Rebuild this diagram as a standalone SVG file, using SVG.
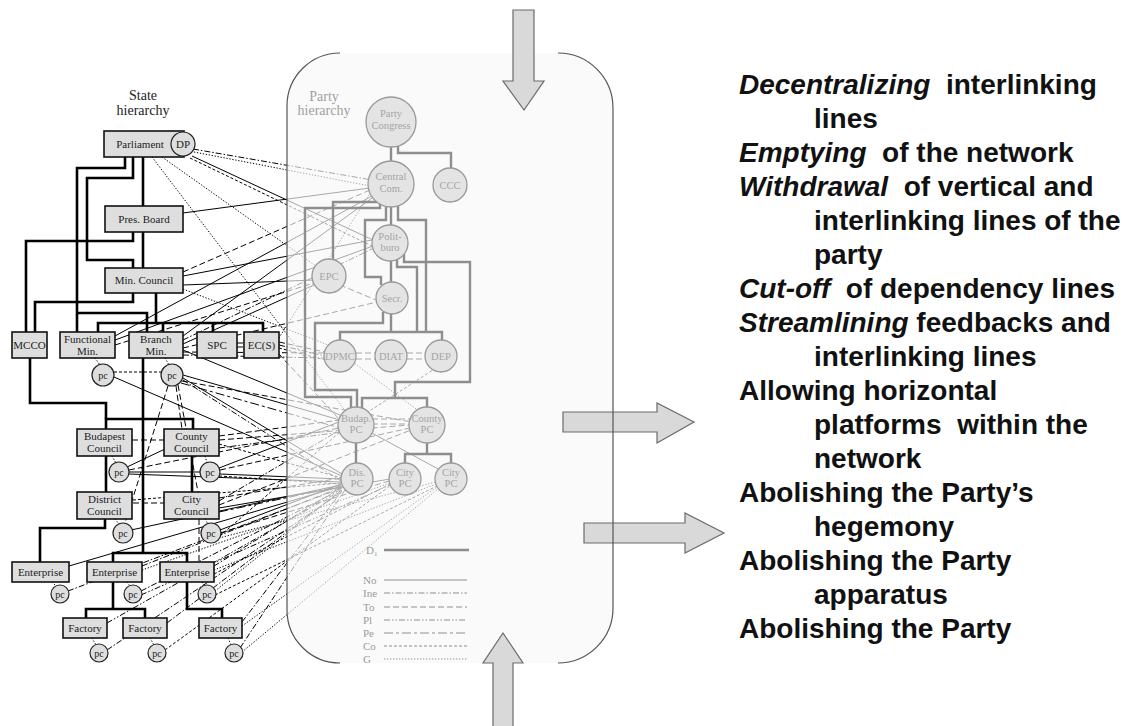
<svg xmlns="http://www.w3.org/2000/svg" width="1127" height="726" viewBox="0 0 1127 726">
<defs>
<style>
.box{fill:#dedede;stroke:#111;stroke-width:1.6}
.st{font-family:"Liberation Serif",serif;font-size:11px;fill:#222;text-anchor:middle}
.pcc{fill:#dedede;stroke:#222;stroke-width:1.2}
.pct{font-family:"Liberation Serif",serif;font-size:10px;fill:#222;text-anchor:middle}
.hl{fill:none;stroke:#000;stroke-width:2.6}
.c{fill:none;stroke:#000;stroke-width:1}
.ine{stroke-dasharray:6 2 1.5 2}
.to{stroke-dasharray:6 3}
.pl{stroke-dasharray:6 2 1.5 2 1.5 2}
.pe{stroke-dasharray:9 3 3 3}
.co{stroke-dasharray:3 2}
.g{stroke-dasharray:1.3 1.7}
.pn{fill:#e4e4e4;stroke:#9a9a9a;stroke-width:1.3}
.pt{font-family:"Liberation Serif",serif;font-size:10.5px;fill:#a5a5a5;text-anchor:middle}
.ph{fill:none;stroke:#8e8e8e;stroke-width:2.4}
.lg{fill:none;stroke:#8e8e8e;stroke-width:1.2}
.lt{font-family:"Liberation Serif",serif;font-size:11px;fill:#9a9a9a}
.arr{fill:#d9d9d9;stroke:#6a6a6a;stroke-width:1.2}
.rt{font-family:"Liberation Sans",Arial,sans-serif;font-size:28px;font-weight:bold;fill:#111;white-space:pre}
.ti{font-family:"Liberation Serif",serif;font-size:14px;text-anchor:middle}
</style>
</defs>
<rect width="1127" height="726" fill="#fff"/>

<!-- interlinking connectors -->
<g id="connectors">
<path class="c ine" d="M193,149 L372,180"/>
<path class="c g" d="M194,152 L370,186"/>
<path class="c" d="M192,156 L373,240"/>
<path class="c co" d="M190,158 L372,246"/>
<path class="c g" d="M152,157 L356,425"/>
<path class="c g" d="M162,157 L330,276"/>
<path class="c" d="M183,213 L370,188"/>
<path class="c to" d="M183,272 L370,190"/>
<path class="c" d="M183,276 L372,240"/>
<path class="c" d="M183,285 L315,280"/>
<path class="c g" d="M183,289 L341,350"/>
<path class="c" d="M115,336 L372,196"/>
<path class="c" d="M115,340 L373,246"/>
<path class="c to" d="M115,345 L314,283"/>
<path class="c" d="M114,377 L342,476"/>
<path class="c co" d="M114,372 L162,372"/>
<path class="c" d="M183,336 L372,198"/>
<path class="c ine" d="M183,340 L374,248"/>
<path class="c" d="M183,344 L314,285"/>
<path class="c to" d="M183,348 L377,302"/>
<path class="c to" d="M183,352 L325,353"/>
<path class="c ine" d="M183,355 L325,358"/>
<path class="c" d="M183,350 L340,415"/>
<path class="c" d="M183,375 L340,420"/>
<path class="c" d="M183,378 L342,474"/>
<path class="c ine" d="M183,380 L341,481"/>
<path class="c to" d="M182,381 L412,422"/>
<path class="c pe" d="M181,383 L340,428"/>
<path class="c to" d="M176,386 L182,429"/>
<path class="c to" d="M178,385 L198,492"/>
<path class="c to" d="M168,386 L125,523"/>
<path class="c to" d="M237,343 L244,343"/>
<path class="c to" d="M237,347 L244,347"/>
<path class="c g" d="M279,338 L372,190"/>
<path class="c to" d="M279,342 L325,352"/>
<path class="c ine" d="M279,345 L325,356"/>
<path class="c co" d="M279,348 L325,360"/>
<path class="c to" d="M279,354 L340,420"/>
<path class="c to" d="M132,440 L164,440"/>
<path class="c to" d="M219,436 L340,420"/>
<path class="c to" d="M219,440 L410,425"/>
<path class="c co" d="M219,444 L342,478"/>
<path class="c ine" d="M219,448 L342,432"/>
<path class="c" d="M127,467 L165,449"/>
<path class="c" d="M129,472 L200,472"/>
<path class="c" d="M129,474 L341,482"/>
<path class="c to" d="M129,470 L339,428"/>
<path class="c" d="M219,468 L339,422"/>
<path class="c to" d="M220,470 L410,428"/>
<path class="c" d="M220,474 L341,479"/>
<path class="c co" d="M219,476 L341,484"/>
<path class="c to" d="M133,503 L164,503"/>
<path class="c co" d="M133,500 L341,483"/>
<path class="c to" d="M219,498 L341,478"/>
<path class="c ine" d="M219,501 L340,430"/>
<path class="c to" d="M219,505 L411,430"/>
<path class="c" d="M219,508 L390,479"/>
<path class="c pe" d="M219,512 L342,486"/>
<path class="c to" d="M199,519 L199,562"/>
<path class="c" d="M131,530 L341,485"/>
<path class="c" d="M220,530 L341,484"/>
<path class="c to" d="M220,533 L389,481"/>
<path class="c co" d="M220,536 L340,432"/>
<path class="c g" d="M219,538 L436,482"/>
<path class="c" d="M69,566 L342,486"/>
<path class="c ine" d="M68,591 L342,488"/>
<path class="c ine" d="M142,566 L342,487"/>
<path class="c g" d="M142,570 L390,483"/>
<path class="c ine" d="M141,591 L342,489"/>
<path class="c pl" d="M141,595 L390,485"/>
<path class="c ine" d="M214,566 L342,487"/>
<path class="c g" d="M214,570 L436,484"/>
<path class="c co" d="M214,574 L390,484"/>
<path class="c g" d="M215,591 L342,490"/>
<path class="c co" d="M215,595 L437,486"/>
<path class="c pl" d="M107,623 L342,490"/>
<path class="c ine" d="M107,650 L342,492"/>
<path class="c ine" d="M167,623 L342,490"/>
<path class="c co" d="M165,650 L390,486"/>
<path class="c ine" d="M242,622 L342,491"/>
<path class="c g" d="M242,626 L437,487"/>
<path class="c ine" d="M240,648 L345,490"/>
<path class="c g" d="M242,652 L438,489"/>
<!-- box to pc -->
<path class="c g" d="M95,358 L100,365"/>
<path class="c g" d="M165,358 L169,365"/>
<path class="c g" d="M112,456 L116,463"/>
<path class="c g" d="M205,456 L207,463"/>
<path class="c g" d="M115,519 L119,524"/>
<path class="c g" d="M205,519 L208,524"/>
<path class="c g" d="M52,582 L56,586"/>
<path class="c g" d="M127,582 L130,586"/>
<path class="c g" d="M202,582 L204,586"/>
<path class="c g" d="M92,638 L96,645"/>
<path class="c g" d="M150,638 L154,645"/>
<path class="c g" d="M228,638 L231,645"/>
<!-- inner -->
<path class="c to" d="M340,285 L376,300"/>
<path class="c g" d="M350,360 L420,412"/>
<path class="c co" d="M436,368 L368,412"/>
<path class="c to" d="M372,419 L410,419"/>
<path class="c to" d="M372,424 L410,424"/>
<path class="c" d="M370,432 L440,470"/>
<path class="c to" d="M356,353 L375,353"/>
<path class="c to" d="M356,359 L375,359"/>
<path class="c to" d="M407,353 L425,353"/>
<path class="c to" d="M407,359 L425,359"/>
</g>

<!-- state hierarchy lines -->
<g id="state-lines">
<path class="hl" d="M125,157 V168 H77 V332"/>
<path class="hl" d="M133,157 V178 H87 V260 H133 V268"/>
<path class="hl" d="M143,157 V206"/>
<path class="hl" d="M143,232 V268"/>
<path class="hl" d="M133,232 V241 H26 V332"/>
<path class="hl" d="M133,293 V302 H35 V332"/>
<path class="hl" d="M156,293 V323"/>
<path class="hl" d="M98,332 V323 H263 V332 M163,323 V332 M213,323 V332"/>
<path class="hl" d="M77,313 H147 V332"/>
<path class="hl" d="M143,358 V553"/>
<path class="hl" d="M113,562 V553 H187 V562"/>
<path class="hl" d="M106,429 V419 H193 V429"/>
<path class="hl" d="M30,358 V403 H106 V419"/>
<path class="hl" d="M106,456 V492"/>
<path class="hl" d="M192,456 V492"/>
<path class="hl" d="M105,519 V528 H40 V562"/>
<path class="hl" d="M113,582 V609"/>
<path class="hl" d="M86,618 V609 H145 V618"/>
<path class="hl" d="M187,582 V609 H222 V618"/>
</g>

<!-- party panel fill (overlay) -->
<rect id="panel" x="287" y="53" width="326" height="610" rx="54" fill="#f7f7f7" fill-opacity="0.68"/>

<!-- party hierarchy lines -->
<g id="party-lines">
<path class="ph" d="M391,147 V161"/>
<path class="ph" d="M398,146 V153 H451 V168"/>
<path class="ph" d="M380,203 V208 H305 V397 H351 V408"/>
<path class="ph" d="M376,200 V202 H333 V259"/>
<path class="ph" d="M386,206 V220 H365 V277 H381 V285"/>
<path class="ph" d="M391,207 V225"/>
<path class="ph" d="M398,205 V220 H426 V332"/>
<path class="ph" d="M391,261 V282"/>
<path class="ph" d="M397,259 V267 H417 V332"/>
<path class="ph" d="M404,254 V262 H470 V382 H395 V398"/>
<path class="ph" d="M362,408 V398 H427 V407"/>
<path class="ph" d="M383,312 V323 H315 V390 H357 V408"/>
<path class="ph" d="M340,340 V332 H442 V340 M391,314 V332"/>
<path class="ph" d="M356,443 V463"/>
<path class="ph" d="M427,443 V454 M405,463 V454 H451 V463"/>
</g>

<!-- state nodes -->
<g id="state-title"><text class="ti" fill="#222" x="143" y="100">State</text><text class="ti" fill="#222" x="143" y="115">hierarchy</text></g>
<g id="n-parliament"><rect class="box" x="104" y="131" width="80" height="26"/><text class="st" x="140" y="148">Parliament</text></g>
<g id="n-dp"><circle class="pcc" cx="183" cy="144" r="12"/><text class="st" x="183" y="148">DP</text></g>
<g id="n-presboard"><rect class="box" x="105" y="206" width="78" height="26"/><text class="st" x="144" y="223">Pres. Board</text></g>
<g id="n-mincouncil"><rect class="box" x="105" y="268" width="78" height="25"/><text class="st" x="144" y="284">Min. Council</text></g>
<g id="n-mcco"><rect class="box" x="12" y="332" width="35" height="26"/><text class="st" x="29.5" y="349">MCCO</text></g>
<g id="n-functional"><rect class="box" x="60" y="332" width="55" height="26"/><text class="st" x="87.5" y="343">Functional</text><text class="st" x="87.5" y="355">Min.</text></g>
<g id="n-branch"><rect class="box" x="129" y="332" width="54" height="26"/><text class="st" x="156" y="343">Branch</text><text class="st" x="156" y="355">Min.</text></g>
<g id="n-spc"><rect class="box" x="197" y="332" width="40" height="26"/><text class="st" x="217" y="349">SPC</text></g>
<g id="n-ecs"><rect class="box" x="244" y="332" width="35" height="26"/><text class="st" x="261.5" y="349">EC(S)</text></g>
<g id="n-pc1"><circle class="pcc" cx="103" cy="375" r="11"/><text class="pct" x="103" y="379">pc</text></g>
<g id="n-pc2"><circle class="pcc" cx="172" cy="375" r="11"/><text class="pct" x="172" y="379">pc</text></g>
<g id="n-budapest"><rect class="box" x="77" y="429" width="55" height="27"/><text class="st" x="104.5" y="440">Budapest</text><text class="st" x="104.5" y="452">Council</text></g>
<g id="n-county"><rect class="box" x="164" y="429" width="55" height="27"/><text class="st" x="191.5" y="440">County</text><text class="st" x="191.5" y="452">Council</text></g>
<g id="n-pc3"><circle class="pcc" cx="119" cy="472" r="10"/><text class="pct" x="119" y="476">pc</text></g>
<g id="n-pc4"><circle class="pcc" cx="210" cy="472" r="10"/><text class="pct" x="210" y="476">pc</text></g>
<g id="n-district"><rect class="box" x="77" y="492" width="55" height="27"/><text class="st" x="104.5" y="503">District</text><text class="st" x="104.5" y="515">Council</text></g>
<g id="n-city"><rect class="box" x="164" y="492" width="55" height="27"/><text class="st" x="191.5" y="503">City</text><text class="st" x="191.5" y="515">Council</text></g>
<g id="n-pc5"><circle class="pcc" cx="123" cy="533" r="10"/><text class="pct" x="123" y="537">pc</text></g>
<g id="n-pc6"><circle class="pcc" cx="211" cy="533" r="10"/><text class="pct" x="211" y="537">pc</text></g>
<g id="n-ent1"><rect class="box" x="12" y="562" width="57" height="20"/><text class="st" x="40.5" y="576">Enterprise</text></g>
<g id="n-ent2"><rect class="box" x="87" y="562" width="55" height="20"/><text class="st" x="114.5" y="576">Enterprise</text></g>
<g id="n-ent3"><rect class="box" x="160" y="562" width="54" height="20"/><text class="st" x="187" y="576">Enterprise</text></g>
<g id="n-pc7"><circle class="pcc" cx="60" cy="594" r="9"/><text class="pct" x="60" y="598">pc</text></g>
<g id="n-pc8"><circle class="pcc" cx="133" cy="594" r="9"/><text class="pct" x="133" y="598">pc</text></g>
<g id="n-pc9"><circle class="pcc" cx="207" cy="594" r="9"/><text class="pct" x="207" y="598">pc</text></g>
<g id="n-fac1"><rect class="box" x="63" y="618" width="44" height="20"/><text class="st" x="85" y="632">Factory</text></g>
<g id="n-fac2"><rect class="box" x="123" y="618" width="44" height="20"/><text class="st" x="145" y="632">Factory</text></g>
<g id="n-fac3"><rect class="box" x="199" y="618" width="43" height="20"/><text class="st" x="220.5" y="632">Factory</text></g>
<g id="n-pc10"><circle class="pcc" cx="99" cy="653" r="9"/><text class="pct" x="99" y="657">pc</text></g>
<g id="n-pc11"><circle class="pcc" cx="157" cy="653" r="9"/><text class="pct" x="157" y="657">pc</text></g>
<g id="n-pc12"><circle class="pcc" cx="234" cy="653" r="9"/><text class="pct" x="234" y="657">pc</text></g>

<!-- party nodes -->
<g id="party-title"><text class="ti" fill="#a0a0a0" x="324" y="101">Party</text><text class="ti" fill="#a0a0a0" x="324" y="115">hierarchy</text></g>
<g id="p-congress"><circle class="pn" cx="391" cy="122" r="25"/><text class="pt" x="391" y="117">Party</text><text class="pt" x="391" y="129">Congress</text></g>
<g id="p-central"><circle class="pn" cx="391" cy="184" r="23"/><text class="pt" x="391" y="180">Central</text><text class="pt" x="391" y="192">Com.</text></g>
<g id="p-ccc"><circle class="pn" cx="450" cy="185" r="17"/><text class="pt" x="450" y="189">CCC</text></g>
<g id="p-polit"><circle class="pn" cx="390" cy="243" r="18"/><text class="pt" x="390" y="240">Polit-</text><text class="pt" x="390" y="251">buro</text></g>
<g id="p-epc"><circle class="pn" cx="329" cy="276" r="17"/><text class="pt" x="329" y="280">EPC</text></g>
<g id="p-secr"><circle class="pn" cx="392" cy="298" r="16"/><text class="pt" x="392" y="302">Secr.</text></g>
<g id="p-dpmc"><circle class="pn" cx="340" cy="356" r="16"/><text class="pt" x="340" y="360">DPMC</text></g>
<g id="p-diat"><circle class="pn" cx="391" cy="356" r="16"/><text class="pt" x="391" y="360">DIAT</text></g>
<g id="p-dep"><circle class="pn" cx="441" cy="356" r="16"/><text class="pt" x="441" y="360">DEP</text></g>
<g id="p-budap"><circle class="pn" cx="356" cy="425" r="18"/><text class="pt" x="356" y="422">Budap.</text><text class="pt" x="356" y="433">PC</text></g>
<g id="p-countypc"><circle class="pn" cx="427" cy="425" r="18"/><text class="pt" x="427" y="422">County</text><text class="pt" x="427" y="433">PC</text></g>
<g id="p-dis"><circle class="pn" cx="357" cy="479" r="16"/><text class="pt" x="357" y="476">Dis.</text><text class="pt" x="357" y="487">PC</text></g>
<g id="p-city1"><circle class="pn" cx="405" cy="479" r="16"/><text class="pt" x="405" y="476">City</text><text class="pt" x="405" y="487">PC</text></g>
<g id="p-city2"><circle class="pn" cx="451" cy="479" r="16"/><text class="pt" x="451" y="476">City</text><text class="pt" x="451" y="487">PC</text></g>

<!-- legend -->
<g id="legend">
<text class="lt" x="366" y="554">D<tspan font-size="7" dy="2">1</tspan></text>
<path class="ph" d="M384,550 H469"/>
<text class="lt" x="363" y="584">No</text><path class="lg" d="M384,580 H467"/>
<text class="lt" x="363" y="597">Ine</text><path class="lg ine" d="M384,593 H467"/>
<text class="lt" x="363" y="611">To</text><path class="lg to" d="M384,607 H467"/>
<text class="lt" x="363" y="624">Pl</text><path class="lg pl" d="M384,620 H467"/>
<text class="lt" x="363" y="637">Pe</text><path class="lg pe" d="M384,633 H467"/>
<text class="lt" x="363" y="650">Co</text><path class="lg co" d="M384,646 H467"/>
<text class="lt" x="363" y="663">G</text><path class="lg g" d="M384,659 H467"/>
</g>

<!-- arrows -->
<g id="arrows">
<polygon class="arr" points="513,10 534,10 534,81 544,81 524,110 503,81 513,81"/>
<polygon class="arr" points="563,412 657,412 657,403 694,422 657,443 657,432 563,432"/>
<polygon class="arr" points="584,523 685,523 685,513 724,533 685,553 685,543 584,543"/>
<polygon class="arr" points="493,727 493,663 483,663 503,633 523,663 513,663 513,727"/>
</g>

<!-- panel outline -->
<path id="panel-outline" d="M340,53 A53,53 0 0 0 287,106 L287,610 A53,53 0 0 0 340,663 M558,53 A55,55 0 0 1 613,108 L613,608 A55,55 0 0 1 558,663" fill="none" stroke="#555" stroke-width="1.2"/>

<!-- right text -->
<g id="measures">
<text class="rt" x="739" y="94"><tspan font-style="italic">Decentralizing</tspan>  interlinking</text>
<text class="rt" x="814" y="128">lines</text>
<text class="rt" x="739" y="162"><tspan font-style="italic">Emptying</tspan>  of the network</text>
<text class="rt" x="739" y="196"><tspan font-style="italic">Withdrawal</tspan>  of vertical and</text>
<text class="rt" x="814" y="230">interlinking lines of the</text>
<text class="rt" x="814" y="264">party</text>
<text class="rt" x="739" y="298"><tspan font-style="italic">Cut-off</tspan>  of dependency lines</text>
<text class="rt" x="739" y="332"><tspan font-style="italic">Streamlining</tspan> feedbacks and</text>
<text class="rt" x="814" y="366">interlinking lines</text>
<text class="rt" x="739" y="400">Allowing horizontal</text>
<text class="rt" x="814" y="434">platforms  within the</text>
<text class="rt" x="814" y="468">network</text>
<text class="rt" x="739" y="502">Abolishing the Party’s</text>
<text class="rt" x="814" y="536">hegemony</text>
<text class="rt" x="739" y="570">Abolishing the Party</text>
<text class="rt" x="814" y="604">apparatus</text>
<text class="rt" x="739" y="638">Abolishing the Party</text>
</g>
</svg>
